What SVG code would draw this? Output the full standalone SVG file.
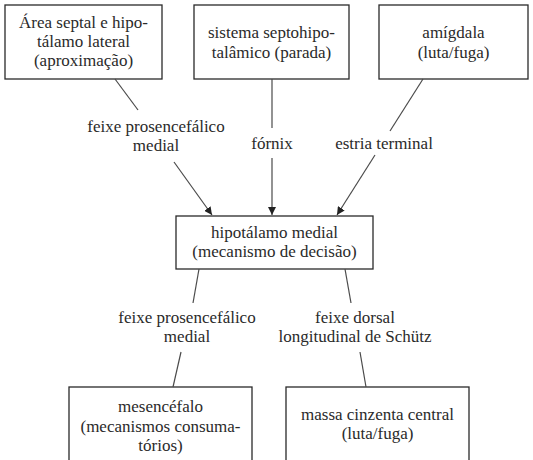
<svg xmlns="http://www.w3.org/2000/svg" width="533" height="460" viewBox="0 0 533 460">
<defs>
<style>
.box{fill:#fff;stroke:#2a2a2a;stroke-width:1.3}
.ln{stroke:#4a4a4a;stroke-width:1.2;fill:none}
text{font-family:"Liberation Serif","Times New Roman",serif;font-size:17px;fill:#2a2a2a;text-anchor:middle}
</style>
<marker id="ah" viewBox="0 0 10 10" refX="10" refY="5" markerWidth="8" markerHeight="8" markerUnits="userSpaceOnUse" orient="auto">
<path d="M0,0 L10,5 L0,10 z" fill="#222"/>
</marker>
</defs>
<rect width="533" height="460" fill="#fff"/>
<g id="n1"><rect class="box" x="5" y="5" width="157" height="74"/>
<text x="83.5" y="28">Área septal e hipo-</text><text x="83.5" y="47">tálamo lateral</text><text x="83.5" y="66">(aproximação)</text></g>
<g id="n2"><rect class="box" x="194" y="5" width="155" height="74"/>
<text x="271.5" y="38">sistema septohipo-</text><text x="271.5" y="58">talâmico (parada)</text></g>
<g id="n3"><rect class="box" x="379" y="5" width="149" height="74"/>
<text x="453.5" y="38">amígdala</text><text x="453.5" y="58">(luta/fuga)</text></g>
<g id="n4"><rect class="box" x="176" y="216" width="197" height="53"/>
<text x="274.5" y="238">hipotálamo medial</text><text x="274.5" y="257">(mecanismo de decisão)</text></g>
<g id="n5"><rect class="box" x="69" y="387" width="183" height="90"/>
<text x="160.5" y="412">mesencéfalo</text><text x="160.5" y="432">(mecanismos consuma-</text><text x="160.5" y="451">tórios)</text></g>
<g id="n6"><rect class="box" x="286" y="387" width="183" height="90"/>
<text x="377.5" y="420">massa cinzenta central</text><text x="377.5" y="439">(luta/fuga)</text></g>
<g id="connectors">
<line class="ln" x1="115" y1="79" x2="138" y2="110"/>
<line class="ln" x1="174" y1="162" x2="212" y2="215" marker-end="url(#ah)"/>
<line class="ln" x1="272" y1="79" x2="272" y2="128"/>
<line class="ln" x1="272" y1="158" x2="272" y2="215" marker-end="url(#ah)"/>
<line class="ln" x1="423" y1="79" x2="390" y2="131"/>
<line class="ln" x1="375" y1="155" x2="337" y2="215" marker-end="url(#ah)"/>
<line class="ln" x1="199" y1="269" x2="193" y2="303"/>
<line class="ln" x1="181" y1="352" x2="173" y2="387"/>
<line class="ln" x1="345" y1="269" x2="351" y2="303"/>
<line class="ln" x1="360" y1="352" x2="366" y2="387"/>
<text x="156" y="132">feixe prosencefálico</text><text x="156" y="151">medial</text>
<text x="272" y="149">fórnix</text>
<text x="384" y="149">estria terminal</text>
<text x="187" y="323">feixe prosencefálico</text><text x="187" y="342">medial</text>
<text x="355" y="323">feixe dorsal</text><text x="355" y="342">longitudinal de Schütz</text>
</g>
</svg>
